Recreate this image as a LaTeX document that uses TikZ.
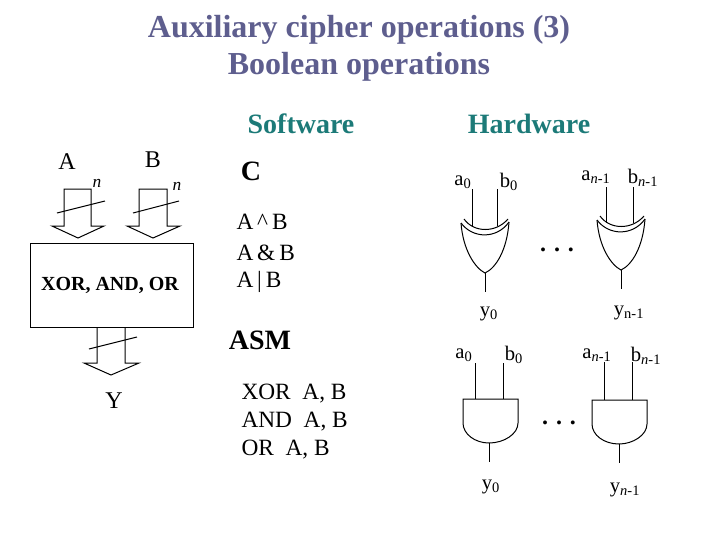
\documentclass[tikz,border=0pt]{standalone}
\usepackage{fontspec}
\setmainfont{Liberation Serif}
\definecolor{titolo}{HTML}{5E5E8E}
\definecolor{verde}{HTML}{1C7A78}
\newcommand{\subn}{\textsubscript{\textit{n}-1}}
\tikzset{
  head/.style={titolo,font=\fontsize{24}{28}\bfseries\selectfont},
  subhead/.style={verde,font=\fontsize{21}{24}\bfseries\selectfont},
  big/.style={font=\fontsize{18}{21}\selectfont},
  txt/.style={font=\fontsize{17.5}{20}\selectfont,anchor=west,inner sep=0pt},
  pin/.style={font=\fontsize{15.5}{18}\selectfont,inner sep=0pt},
  bold/.style={font=\fontsize{21}{24}\bfseries\selectfont},
  count/.style={font=\fontsize{13}{15}\itshape\selectfont}
}
\begin{document}
\begin{tikzpicture}[x=0.75pt,y=-0.75pt,line width=0.75pt]
  \useasboundingbox (0,0) rectangle (720,540);
  \node[head] (t1) at (359,30) {Auxiliary cipher operations (3)};
  \node[head] (t2) at (359,67) {Boolean operations};
  \node[subhead] (sw) at (301,124) {Software};
  \node[subhead] (hw) at (529,124) {Hardware};
  % block
  \node[draw,minimum width=122.25pt,minimum height=63pt,inner sep=0pt,font=\fontsize{15}{17}\bfseries\selectfont] (blk) at (111.5,285) {};
  \node[font=\fontsize{15}{17}\bfseries\selectfont] (blktxt) at (110,285) {XOR, AND, OR};
  \node[big] (A) at (67,162) {A};
  \node[big] (B) at (153,160) {B};
  \node[count] (n1) at (97,183) {n};
  \node[count] (n2) at (177,186) {n};
  \draw (64,226) -- (64,189) -- (91,189) -- (91,226) -- (104,226) -- (78,238) -- (52,226) -- cycle;
  \draw (57,213) -- (105,201);
  \draw (139,226) -- (139,189) -- (167,189) -- (167,226) -- (180,226) -- (153,238) -- (127,226) -- cycle;
  \draw (133,213) -- (179,201);
  \draw (97,327) -- (97,363) -- (84,363) -- (111,375) -- (139,363) -- (125,363) -- (125,327);
  \draw (89,349) -- (137,337);
  \node[big] (Y) at (114,401) {Y};
  % software
  \node[bold] (C) at (251,171) {C};
  \node[txt] (op1) at (236,222) {A\,\^{}\,B};
  \node[txt] (op2) at (236,253) {A\,\&\,B};
  \node[txt] (op3) at (236,282) {A\,|\,B};
  \node[bold] (asm) at (260,340) {ASM};
  \node[txt] (ins1) at (241,394) {XOR~~A, B};
  \node[txt] (ins2) at (241,422) {AND~~A, B};
  \node[txt] (ins3) at (241,450) {OR~~A, B};
  % xor gates
  \begin{scope}
    \draw (472,189) -- (472,226);
    \draw (497,189) -- (497,226);
    \draw (464,219) .. controls (474,233) and (496,233) .. (508,219);
    \draw (461,223) .. controls (473,239) and (497,239) .. (509,222);
    \draw (461,223) .. controls (463,250) and (475,268) .. (485,273) .. controls (496,268) and (507,250) .. (509,222);
    \draw (485,273) -- (485,292);
    \node[pin] (a0) at (463,182) {a\textsubscript{0}};
    \node[pin] (b0) at (509,182) {b\textsubscript{0}};
    \node[pin] (y0) at (489,314) {y\textsubscript{0}};
  \end{scope}
  \begin{scope}[shift={(136,-3)}]
    \draw (470,190) -- (470,226);
    \draw (497,190) -- (497,226);
    \draw (464,219) .. controls (474,233) and (496,233) .. (508,219);
    \draw (461,223) .. controls (473,239) and (497,239) .. (509,222);
    \draw (461,223) .. controls (463,250) and (475,268) .. (485,273) .. controls (496,268) and (507,250) .. (509,222);
    \draw (485,273) -- (485,292);
  \end{scope}
  \node[pin] (an) at (596,177) {a\subn};
  \node[pin] (bn) at (643,178) {b\subn};
  \node[pin] (yn) at (629,313) {y\textsubscript{n-1}};
  \node[font=\fontsize{18}{20}\bfseries\selectfont] (dots1) at (557,250) {.\,\,.\,\,.};
  % and gates
  \begin{scope}
    \draw (475,363) -- (475,399);
    \draw (503,363) -- (503,399);
    \draw (463,399) -- (518,399) -- (518,423) .. controls (518,434) and (504,443) .. (489,443) .. controls (475,443) and (463,434) .. (463,423) -- cycle;
    \draw (489,443) -- (489,462);
    \node[pin] (a1) at (464,355) {a\textsubscript{0}};
    \node[pin] (b1) at (514,355) {b\textsubscript{0}};
    \node[pin] (y1) at (491,487) {y\textsubscript{0}};
  \end{scope}
  \begin{scope}[shift={(129,1)}]
    \draw (475,361) -- (475,399);
    \draw (503,361) -- (503,399);
    \draw (463,399) -- (518,399) -- (518,423) .. controls (518,434) and (504,443) .. (490,443) .. controls (475,443) and (463,434) .. (463,423) -- cycle;
    \draw (490,443) -- (490,462);
  \end{scope}
  \node[pin] (am) at (597,355) {a\subn};
  \node[pin] (bm) at (646,356) {b\subn};
  \node[pin] (ym) at (625,490) {y\subn};
  \node[font=\fontsize{18}{20}\bfseries\selectfont] (dots2) at (559,423) {.\,\,.\,\,.};
\end{tikzpicture}
\end{document}
